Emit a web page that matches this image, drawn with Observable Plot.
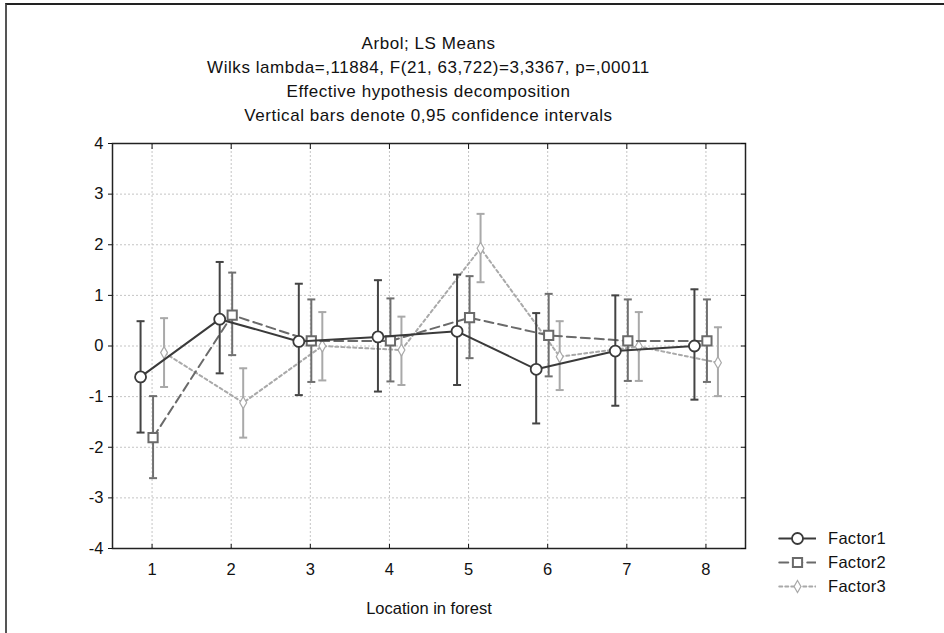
<!DOCTYPE html>
<html>
<head>
<meta charset="utf-8">
<script src="https://cdn.jsdelivr.net/npm/d3@7"></script>
<script src="https://cdn.jsdelivr.net/npm/@observablehq/plot@0.6"></script>
<style>
  html, body { margin: 0; padding: 0; background: #fff; }
  #wrap { position: relative; width: 944px; height: 633px; overflow: hidden; font-family: "Liberation Sans", Arial, sans-serif; }
  #frame { position: absolute; left: 5px; top: 3px; width: 950px; height: 640px; border-left: 2px solid #555; border-top: 2px solid #222; box-sizing: border-box; pointer-events: none; }
  #title { position: absolute; left: 112px; width: 633px; top: 32px; text-align: center; font-size: 17px; letter-spacing: 0.55px; line-height: 24px; color: #111; }
  #legend { position: absolute; left: 778px; top: 526px; font-size: 16.5px; letter-spacing: 0.3px; color: #111; }
  .row { display: flex; align-items: center; height: 24px; }
  .row svg { margin-right: 12px; }
  #chart { position: absolute; left: 0; top: 0; }
</style>
</head>
<body>
<div id="wrap">
  <div id="chart"></div>
  <div id="title"></div>
  <div id="legend"></div>
  <div id="frame"></div>
</div>
<script>
const titleLines = [
  "Arbol; LS Means",
  "Wilks lambda=,11884, F(21, 63,722)=3,3367, p=,00011",
  "Effective hypothesis decomposition",
  "Vertical bars denote 0,95 confidence intervals"
];
const xLabel = "Location in forest";
const locations = [1, 2, 3, 4, 5, 6, 7, 8];
const yTicks = [-4, -3, -2, -1, 0, 1, 2, 3, 4];
const seriesNames = ["Factor1", "Factor2", "Factor3"];

const f1Mean = [-0.61, 0.53, 0.09, 0.18, 0.29, -0.46, -0.10, 0.00];
const f1Low  = [-1.71, -0.54, -0.97, -0.90, -0.77, -1.53, -1.18, -1.06];
const f1High = [0.49, 1.66, 1.23, 1.30, 1.41, 0.65, 1.00, 1.12];

const f2Mean = [-1.81, 0.61, 0.10, 0.10, 0.56, 0.21, 0.10, 0.10];
const f2Low  = [-2.61, -0.18, -0.71, -0.70, -0.24, -0.60, -0.69, -0.71];
const f2High = [-0.99, 1.45, 0.92, 0.94, 1.38, 1.03, 0.92, 0.92];

const f3Mean = [-0.13, -1.12, 0.00, -0.08, 1.93, -0.21, -0.01, -0.33];
const f3Low  = [-0.81, -1.81, -0.68, -0.77, 1.26, -0.87, -0.69, -0.99];
const f3High = [0.55, -0.44, 0.67, 0.58, 2.61, 0.49, 0.67, 0.37];

function build(means, lows, highs) {
  return locations.map((x, i) => ({ x, mean: means[i], lo: lows[i], hi: highs[i] }));
}
const d1 = build(f1Mean, f1Low, f1High);
const d2 = build(f2Mean, f2Low, f2High);
const d3 = build(f3Mean, f3Low, f3High);

const styles = [
  { stroke: "#3a3a3a", bar: "#444", dash: null, dx: -11.5, symbol: "circle", r: 5.5, mw: 1.8 },
  { stroke: "#6a6a6a", bar: "#707070", dash: "9,5", dx: 1, symbol: "square", r: 5.2, mw: 2 },
  { stroke: "#a9a9a9", bar: "#a9a9a9", dash: "3,3", dx: 12, symbol: "diamond", r: 3.6, mw: 1.2 }
];

const cap = { draw(ctx, size) { const w = Math.sqrt(size / Math.PI); ctx.moveTo(-w, 0); ctx.lineTo(w, 0); } };

function seriesMarks(data, s) {
  return [
    Plot.ruleX(data, { x: "x", y1: "lo", y2: "hi", stroke: s.bar, strokeWidth: 2, dx: s.dx }),
    Plot.dot(data, { x: "x", y: "lo", symbol: cap, r: 4, stroke: s.bar, strokeWidth: 2, dx: s.dx }),
    Plot.dot(data, { x: "x", y: "hi", symbol: cap, r: 4, stroke: s.bar, strokeWidth: 2, dx: s.dx }),
    Plot.line(data, { x: "x", y: "mean", stroke: s.stroke, strokeWidth: 2, strokeDasharray: s.dash, dx: s.dx }),
    Plot.dot(data, { x: "x", y: "mean", symbol: s.symbol, r: s.r, fill: "white", stroke: s.stroke, strokeWidth: s.mw, dx: s.dx })
  ];
}

const chart = Plot.plot({
  width: 944,
  height: 633,
  marginLeft: 112,
  marginRight: 199,
  marginTop: 143,
  marginBottom: 85,
  style: { fontFamily: "'Liberation Sans', Arial, sans-serif", fontSize: "16px", color: "#111", background: "white" },
  x: { domain: [0.5, 8.5], ticks: locations },
  y: { domain: [-4, 4], ticks: yTicks },
  marks: [
    Plot.gridX(locations, { stroke: "#c4c4c4", strokeOpacity: 1, strokeDasharray: "2,2" }),
    Plot.gridY(yTicks, { stroke: "#c4c4c4", strokeOpacity: 1, strokeDasharray: "2,2" }),
    ...seriesMarks(d3, styles[2]),
    ...seriesMarks(d2, styles[1]),
    ...seriesMarks(d1, styles[0]),
    Plot.frame({ stroke: "#222", strokeWidth: 1.5 }),
    Plot.axisY(yTicks, { tickSize: 4, tickPadding: 5, tickFormat: d => String(d), label: null, fontSize: 16.5 }),
    Plot.axisY(yTicks, { anchor: "right", tickSize: -5, tickFormat: () => "", label: null }),
    Plot.axisX(locations, { anchor: "top", tickSize: -5, tickFormat: () => "", label: null }),
    Plot.axisX(locations, { tickSize: -4, tickFormat: () => "", label: null }),
    Plot.axisX(locations, { tickSize: 0, tickPadding: 15, tickFormat: d => String(d), fontSize: 16.5, label: xLabel, labelAnchor: "center", labelArrow: "none", labelOffset: 65 })
  ]
});
document.getElementById("chart").appendChild(chart);

document.getElementById("title").innerHTML = titleLines.map(t => `<div>${t}</div>`).join("");

const legend = document.getElementById("legend");
seriesNames.forEach((name, i) => {
  const s = styles[i];
  const row = document.createElement("div");
  row.className = "row";
  const sym = Plot.plot({
    width: 38, height: 20, margin: 0,
    x: { domain: [0, 1], axis: null }, y: { domain: [0, 1], axis: null },
    marks: [
      Plot.line([{ x: 0.02, y: 0.5 }, { x: 0.98, y: 0.5 }], { x: "x", y: "y", stroke: s.stroke, strokeWidth: 2, strokeDasharray: s.dash }),
      Plot.dot([{ x: 0.5, y: 0.5 }], { x: "x", y: "y", symbol: s.symbol, r: s.r, fill: "white", stroke: s.stroke, strokeWidth: s.mw })
    ]
  });
  row.appendChild(sym);
  const label = document.createElement("span");
  label.textContent = name;
  row.appendChild(label);
  legend.appendChild(row);
});
</script>
</body>
</html>
